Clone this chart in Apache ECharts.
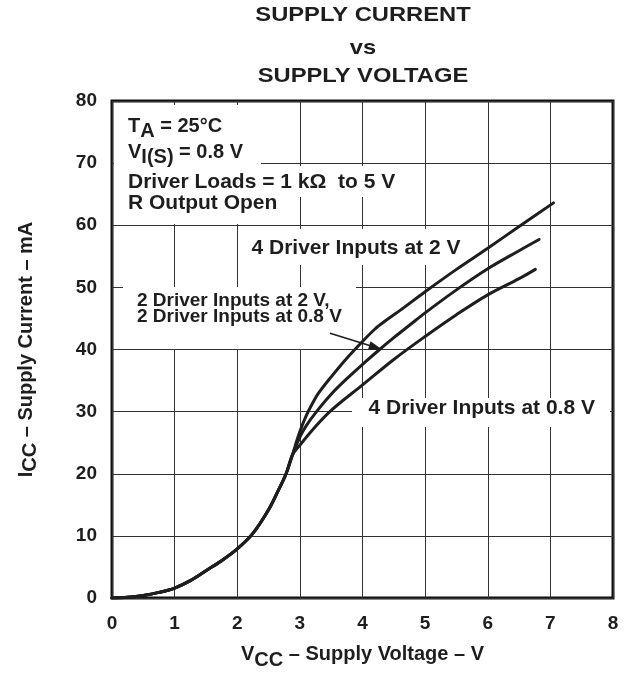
<!DOCTYPE html>
<html>
<head>
<meta charset="utf-8">
<script src="https://cdn.jsdelivr.net/npm/echarts@6.0.0/dist/echarts.min.js"></script>
<style>
  html, body { margin: 0; padding: 0; background: #ffffff; }
  #chart { width: 627px; height: 675px; }
</style>
</head>
<body>
<div id="chart"></div>
<script>
// ---- data ----
const xTickLabels = ['0', '1', '2', '3', '4', '5', '6', '7', '8'];
const yTickLabels = ['0', '10', '20', '30', '40', '50', '60', '70', '80'];

// common part of all three curves (below ~2.9 V), VCC (V) / ICC (mA)
const sharedV = [0, 0.25, 0.5, 0.75, 1.0, 1.25, 1.5, 1.75, 2.0, 2.25, 2.5, 2.65, 2.78, 2.88];
const sharedI = [0, 0.12, 0.4, 0.9, 1.6, 2.8, 4.4, 6.0, 7.9, 10.4, 14.2, 17.2, 20.0, 23.0];

// 4 Driver Inputs at 2 V
const top4at2V_V = [2.95, 3.0, 3.1, 3.2, 3.3, 3.5, 3.75, 4.0, 4.2, 4.35, 4.6, 5.0, 5.5, 6.0, 6.5, 7.05];
const top4at2V_I = [25.3, 26.8, 29.3, 31.3, 33.0, 35.6, 38.6, 41.3, 43.3, 44.5, 46.3, 49.3, 52.9, 56.3, 59.8, 63.6];

// 2 Driver Inputs at 2 V, 2 Driver Inputs at 0.8 V
const mid2and2_V = [3.0, 3.1, 3.25, 3.5, 3.75, 4.0, 4.25, 4.5, 4.75, 5.0, 5.5, 6.0, 6.5, 6.82];
const mid2and2_I = [25.9, 27.7, 29.8, 32.8, 35.3, 37.6, 39.8, 41.9, 43.9, 45.9, 49.6, 53.0, 55.9, 57.7];

// 4 Driver Inputs at 0.8 V
const bot4at08V_V = [3.0, 3.25, 3.5, 4.0, 4.5, 5.0, 5.5, 6.0, 6.5, 6.76];
const bot4at08V_I = [24.6, 27.6, 30.2, 34.3, 38.4, 42.1, 45.6, 48.8, 51.4, 52.9];

function pairs(vs, is) { return vs.map((v, k) => [v, is[k]]); }
function curve(vs, is) { return pairs(sharedV, sharedI).concat(pairs(vs, is)); }

const FONT = '"Liberation Sans", Arial, Helvetica, sans-serif';
const INK = '#1e1e1e';

const chart = echarts.init(document.getElementById('chart'), null, { renderer: 'canvas' });

function lineSeries(name, data) {
  return {
    name: name, type: 'line', data: data,
    smooth: 0.35,
    showSymbol: false, symbol: 'none',
    lineStyle: { color: INK, width: 3, join: 'round', cap: 'round' },
    z: 3, silent: true
  };
}

function rect(x, y, w, h) {
  return { type: 'rect', z: 1, silent: true, shape: { x: x, y: y, width: w, height: h }, style: { fill: '#ffffff' } };
}
function txt(x, y, text, size, extra, sx) {
  return {
    type: 'text', z: 5, silent: true, x: x, y: y, scaleX: sx || 1,
    style: Object.assign({
      text: text, fill: INK, fontFamily: FONT, fontWeight: 'bold', fontSize: size,
      align: 'left', verticalAlign: 'middle'
    }, extra || {})
  };
}
function subRich(size, drop) {
  return {
    m: { fontFamily: FONT, fontWeight: 'bold', fontSize: size, fill: INK, color: INK, lineHeight: size + 2 * drop },
    s: { fontFamily: FONT, fontWeight: 'bold', fontSize: size, fill: INK, color: INK, lineHeight: size, verticalAlign: 'bottom' }
  };
}

const option = {
  animation: false,
  backgroundColor: '#ffffff',
  grid: {
    left: 112, right: 14, top: 101, bottom: 71,
    show: true, borderColor: '#111', borderWidth: 3, backgroundColor: 'transparent'
  },
  xAxis: {
    type: 'value', min: 0, max: 8, interval: 1,
    axisLine: { show: false }, axisTick: { show: false },
    splitLine: { show: true, lineStyle: { color: '#333', width: 1 } },
    axisLabel: {
      margin: 16, color: INK, fontFamily: FONT, fontWeight: 'bold', fontSize: 19,
      formatter: (v) => xTickLabels[Math.round(v)]
    },
    name: '{m|V}{s|CC}{m| – Supply Voltage – V}',
    nameLocation: 'middle', nameGap: 40,
    nameTextStyle: { rich: subRich(20, 6) }
  },
  yAxis: {
    type: 'value', min: 0, max: 80, interval: 10,
    axisLine: { show: false }, axisTick: { show: false },
    splitLine: { show: true, lineStyle: { color: '#333', width: 1 } },
    axisLabel: {
      margin: 15, color: INK, fontFamily: FONT, fontWeight: 'bold', fontSize: 19,
      formatter: (v) => yTickLabels[Math.round(v / 10)]
    },
    name: '{m|I}{s|CC}{m| – Supply Current – mA}',
    nameLocation: 'middle', nameGap: 72, nameRotate: 90,
    nameTextStyle: { rich: subRich(20, 4) }
  },
  series: [
    lineSeries('4 Driver Inputs at 2 V', curve(top4at2V_V, top4at2V_I)),
    lineSeries('2 Driver Inputs at 2 V, 2 Driver Inputs at 0.8 V', curve(mid2and2_V, mid2and2_I)),
    lineSeries('4 Driver Inputs at 0.8 V', curve(bot4at08V_V, bot4at08V_I))
  ],
  graphic: [
    // title
    txt(363, 15, 'SUPPLY CURRENT', 21, { align: 'center' }, 1.13),
    txt(363, 48, 'vs', 21, { align: 'center' }, 1.13),
    txt(363, 76, 'SUPPLY VOLTAGE', 21, { align: 'center' }, 1.13),

    // white label boxes that interrupt the grid
    rect(114, 105, 147, 61),
    rect(114, 166, 286, 31),
    rect(114, 197, 183, 27),
    rect(240, 229, 232, 36),
    rect(123, 287, 233, 62),
    rect(352, 398, 258, 29),

    // condition labels
    txt(128, 126, '{m|T}{s|A}{m| = 25°C}', 20, { rich: subRich(20, 5) }),
    txt(128, 152.5, '{m|V}{s|I(S)}{m| = 0.8 V}', 20, { rich: subRich(20, 5) }),
    txt(128, 182, 'Driver Loads = 1 kΩ  to 5 V', 21),
    txt(128, 203, 'R Output Open', 21),

    // curve labels
    txt(251.5, 248, '4 Driver Inputs at 2 V', 21),
    txt(137, 300.5, '2 Driver Inputs at 2 V,', 19),
    txt(137, 316.5, '2 Driver Inputs at 0.8 V', 19),
    txt(368.5, 408.5, '4 Driver Inputs at 0.8 V', 21),

    // arrow
    { type: 'line', z: 6, silent: true, shape: { x1: 330, y1: 333.3, x2: 372, y2: 346.3 }, style: { stroke: INK, lineWidth: 1.6 } },
    { type: 'polygon', z: 6, silent: true, shape: { points: [[381.7, 349.3], [368.0, 349.8], [370.6, 341.2]] }, style: { fill: INK } }
  ]
};

chart.setOption(option);
</script>
</body>
</html>
